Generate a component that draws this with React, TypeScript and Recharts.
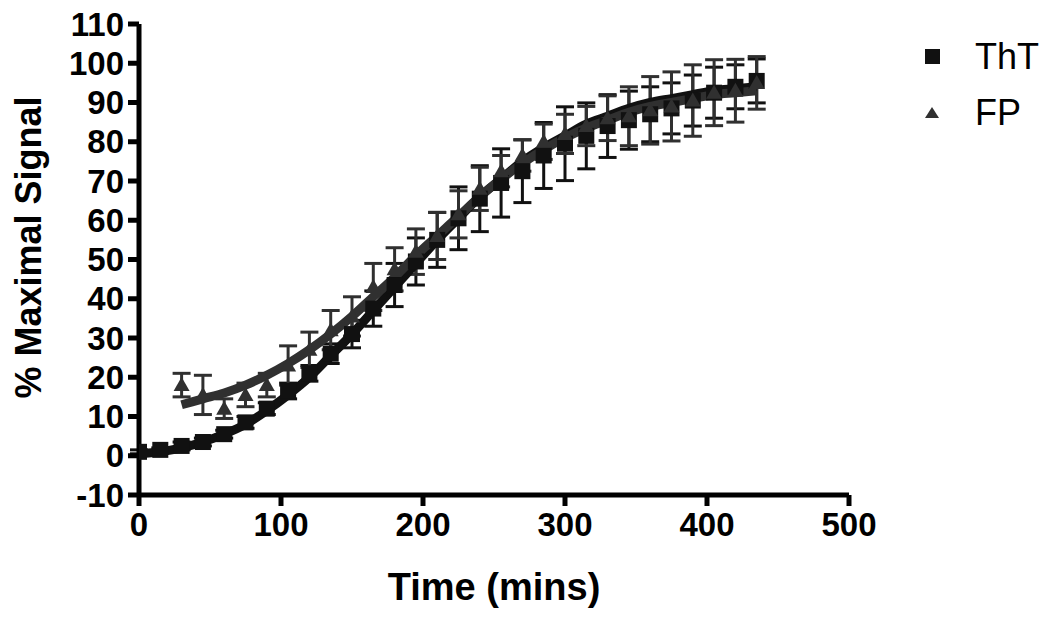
import { ComposedChart, Line, Scatter, ErrorBar, XAxis, YAxis, Label } from "recharts"

const FONT = "'Liberation Sans', Arial, Helvetica, sans-serif"

// sampling times (minutes)
const thtTimes = [0, 15, 30, 45, 60, 75, 90, 105, 120, 135, 150, 165, 180, 195, 210, 225, 240, 255, 270, 285, 300, 315, 330, 345, 360, 375, 390, 405, 420, 435]
const fpTimes = [30, 45, 60, 75, 90, 105, 120, 135, 150, 165, 180, 195, 210, 225, 240, 255, 270, 285, 300, 315, 330, 345, 360, 375, 390, 405, 420, 435]

// measured % maximal signal, mean and error
const thtMean = [1, 1.5, 2.5, 3.5, 5.5, 8.5, 12, 16.5, 21, 26, 31, 37.5, 43.5, 49.5, 55, 60.5, 65.5, 69.5, 72.5, 76.5, 79.5, 81.5, 84, 85.5, 87, 88.5, 90.5, 92.5, 94, 95.5]
const thtErr = [0.5, 0.5, 1, 1, 1, 1.5, 1.5, 2, 2, 2.5, 3.5, 4.5, 5.5, 6, 7, 8, 8.4, 8.7, 8, 8.4, 9.4, 8.4, 8, 7.4, 7, 6.5, 6.5, 6.5, 5.6, 5.6]
const fpMean = [18, 15.5, 12, 15.5, 18, 23, 27, 32, 35.5, 43, 47.5, 52, 56, 61.5, 68, 72.5, 76.5, 80, 82, 84, 86, 86.5, 88, 89, 90.5, 92.5, 93, 95]
const fpErr = [3, 5, 2.5, 3, 3, 5, 4.5, 5, 5, 6, 5.5, 5.8, 6, 6, 5.5, 4, 4, 4.5, 5, 5, 5.7, 7.5, 8.6, 8.8, 9.1, 8.4, 8, 6.7]

// fitted sigmoid curves
const thtFit = [0.5, 1, 2, 3.5, 5.5, 8, 11.5, 15.5, 20, 25.5, 31, 37, 43, 49, 55, 60.5, 66, 70.5, 75, 78.5, 81.5, 84.5, 86.5, 88.5, 90, 91, 92, 93, 93.5, 94]
const fpFit = [13, 14.5, 16, 18, 20.5, 23.5, 27, 31, 35.5, 40.5, 45.5, 51, 56, 61, 66, 70.5, 74.5, 78, 81, 83.5, 85.5, 87.5, 89, 90, 91, 92, 92.5, 93]

const xTicks = [0, 100, 200, 300, 400, 500]
const yTicks = [-10, 0, 10, 20, 30, 40, 50, 60, 70, 80, 90, 100, 110]

const seriesNames = ["ThT", "FP"]

const thtPoints = thtTimes.map((t, i) => ({ t, v: thtMean[i], err: thtErr[i] }))
const fpPoints = fpTimes.map((t, i) => ({ t, v: fpMean[i], err: fpErr[i] }))
const thtCurve = thtTimes.map((t, i) => ({ t, v: thtFit[i] }))
const fpCurve = fpTimes.map((t, i) => ({ t, v: fpFit[i] }))

const THT_COLOR = "#111111"
const FP_COLOR = "#303030"

function SquareDot(props: any) {
  const { cx, cy } = props
  return <rect x={cx - 8} y={cy - 8} width={16} height={16} fill={THT_COLOR} />
}

function TriangleDot(props: any) {
  const { cx, cy } = props
  return <polygon points={`${cx},${cy - 8} ${cx + 8},${cy + 6} ${cx - 8},${cy + 6}`} fill={FP_COLOR} />
}

function LegendBox() {
  return (
    <div style={{ position: "absolute", left: 925, top: 29, fontFamily: FONT, fontSize: 36, color: "#000" }}>
      {seriesNames.map((name, i) => (
        <div key={name} style={{ display: "flex", alignItems: "center", height: 56 }}>
          <svg width={16} height={16} style={{ marginRight: 34 }}>
            {i === 0 ? (
              <rect x={0} y={0} width={15} height={15} fill={THT_COLOR} />
            ) : (
              <polygon points="7,2 14,13 0,13" fill={FP_COLOR} />
            )}
          </svg>
          <span>{name}</span>
        </div>
      ))}
    </div>
  )
}

const tickStyle = { fill: "#000", fontSize: 33, fontWeight: "bold" as const, fontFamily: FONT }
const axisStroke = { stroke: "#000", strokeWidth: 5 }

export default function App() {
  return (
    <div style={{ position: "absolute", left: 0, top: 0, width: 1050, height: 620, background: "#fff" }}>
      <ComposedChart width={1050} height={620} margin={{ top: 24, right: 201, bottom: 10, left: 0 }}>
        <XAxis
          dataKey="t"
          type="number"
          domain={[0, 500]}
          ticks={xTicks}
          allowDataOverflow
          height={115}
          tickSize={11}
          tickMargin={7}
          tick={tickStyle}
          axisLine={axisStroke}
          tickLine={axisStroke}
        >
          <Label
            content={(props: any) => {
              const vb = props.viewBox
              return (
                <text
                  x={vb.x + vb.width / 2}
                  y={vb.y + 92}
                  textAnchor="middle"
                  dominantBaseline="central"
                  fontFamily={FONT}
                  fontWeight="bold"
                  fontSize={38}
                  fill="#000"
                >
                  Time (mins)
                </text>
              )
            }}
          />
        </XAxis>
        <YAxis
          dataKey="v"
          type="number"
          domain={[-10, 110]}
          ticks={yTicks}
          interval={0}
          allowDataOverflow
          width={139}
          tickSize={11}
          tickMargin={4}
          tick={tickStyle}
          axisLine={axisStroke}
          tickLine={axisStroke}
        >
          <Label
            content={(props: any) => {
              const vb = props.viewBox
              const x = vb.x + 28
              const y = vb.y + vb.height / 2 - 12
              return (
                <text
                  x={x}
                  y={y}
                  transform={`rotate(-90, ${x}, ${y})`}
                  textAnchor="middle"
                  dominantBaseline="central"
                  fontFamily={FONT}
                  fontWeight="bold"
                  fontSize={36}
                  fill="#000"
                >
                  % Maximal Signal
                </text>
              )
            }}
          />
        </YAxis>
        <Scatter name="ThT" data={thtPoints} dataKey="v" fill={THT_COLOR} shape={SquareDot} isAnimationActive={false}>
          <ErrorBar dataKey="err" direction="y" width={9} strokeWidth={3} stroke={THT_COLOR} />
        </Scatter>
        <Scatter name="FP" data={fpPoints} dataKey="v" fill={FP_COLOR} shape={TriangleDot} isAnimationActive={false}>
          <ErrorBar dataKey="err" direction="y" width={9} strokeWidth={3} stroke={FP_COLOR} />
        </Scatter>
        <Line
          data={thtCurve}
          dataKey="v"
          type="monotone"
          stroke={THT_COLOR}
          strokeWidth={9}
          dot={false}
          legendType="none"
          isAnimationActive={false}
        />
        <Line
          data={fpCurve}
          dataKey="v"
          type="monotone"
          stroke={FP_COLOR}
          strokeWidth={9}
          dot={false}
          legendType="none"
          isAnimationActive={false}
        />
      </ComposedChart>
      <LegendBox />
    </div>
  )
}
